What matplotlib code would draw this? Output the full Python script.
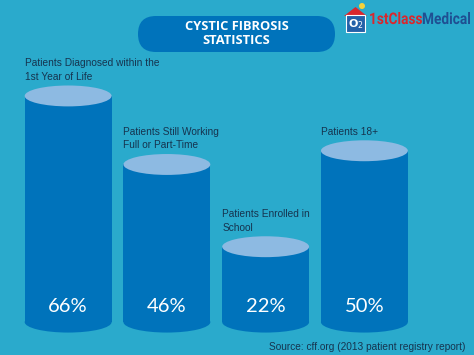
import matplotlib.pyplot as plt
from matplotlib.patches import Ellipse, Rectangle, FancyBboxPatch, Polygon, Circle, PathPatch
from matplotlib.transforms import blended_transform_factory, Affine2D
from matplotlib.textpath import TextPath
from matplotlib.font_manager import FontProperties

# data
labels = ['Patients Diagnosed within the\n1st Year of Life',
          'Patients Still Working\nFull or Part-Time',
          'Patients Enrolled in\nSchool',
          'Patients 18+']
values = [66, 46, 22, 50]
pct_text = ['66%', '46%', '22%', '50%']

bg = '#2aaacc'
body = '#0073bb'
top = '#8dbae2'
dark = '#16344f'

fig = plt.figure(figsize=(4.74, 3.55), dpi=100, facecolor=bg)

# chart axes covers the whole figure
ax = fig.add_axes([0, 0, 1, 1])
ax.set_facecolor('none')
ax.set_xlim(-0.69, 4.11)
ax.set_ylim(-9.6, 94)
ax.axis('off')

w = 0.88
eh = 6.1
for i, v in enumerate(values):
    ax.add_patch(Ellipse((i, 0), w, eh, color=body, lw=0))
    ax.add_patch(Rectangle((i - w / 2, 0), w, v, color=body, lw=0))
    ax.add_patch(Ellipse((i, v), w, eh, color=top, lw=0))
    ax.annotate(labels[i], xy=(i - w / 2, v), xytext=(0, 14),
                textcoords='offset pixels', ha='left', va='bottom',
                fontsize=7.3, color=dark, family='Liberation Sans',
                linespacing=1.45)

tr = blended_transform_factory(ax.transData, ax.transAxes)
for i, t in enumerate(pct_text):
    ax.text(i, 1 - 306 / 355, t, transform=tr, ha='center', va='center',
            fontsize=14.5, color='white', family='Lato')

# decorations in pixel units
deco = fig.add_axes([0, 0, 1, 1], zorder=-1)
deco.set_facecolor('none')
deco.set_xlim(0, 474)
deco.set_ylim(355, 0)
deco.axis('off')

deco.add_patch(FancyBboxPatch((138, 16), 197, 36,
                              boxstyle='round,pad=0,rounding_size=18',
                              color=body, lw=0))
deco.text(236.5, 34, 'CYSTIC FIBROSIS\nSTATISTICS', ha='center', va='center',
          fontsize=9.3, color='white', fontweight='bold', family='Open Sans',
          linespacing=1.1)

# logo
deco.add_patch(Circle((362, 6), 3, color='#f3d23a', lw=0))
deco.add_patch(Polygon([[344, 16], [355.5, 7], [367, 16]], color='#d9272e', lw=0))
deco.add_patch(Rectangle((346, 15), 19, 17, color='#2461a8', ec='white', lw=0.8))
deco.text(355.5, 24, 'O$_2$', ha='center', va='center', fontsize=8,
          color='white', fontweight='bold')

fp = FontProperties(family='Roboto', weight='bold')
p1 = TextPath((0, 0), '1stClass', size=16, prop=fp)
p2 = TextPath((0, 0), 'Medical', size=16, prop=fp)
w1 = p1.get_extents().x1
w2 = p2.get_extents().x1
sx = 101 / (w1 + w2)
deco.add_patch(PathPatch(Affine2D().scale(sx, -1).translate(369, 24).transform_path(p1),
                         color='#d9272e', lw=0))
deco.add_patch(PathPatch(Affine2D().scale(sx, -1).translate(369 + w1 * sx, 24).transform_path(p2),
                         color='#1f4f92', lw=0))

deco.text(465, 347, 'Source: cff.org (2013 patient registry report)',
          ha='right', va='center', fontsize=7.3, color=dark,
          family='Liberation Sans')

fig.savefig('out.png', dpi=100, facecolor=bg)
